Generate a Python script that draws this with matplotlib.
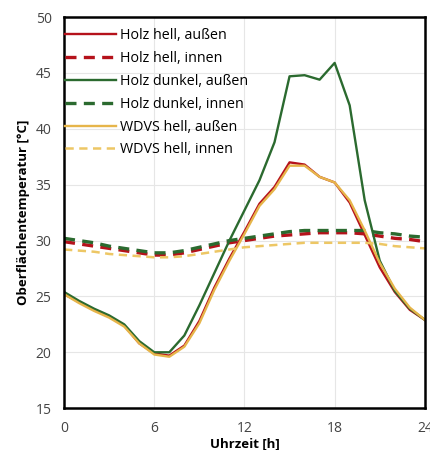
import matplotlib
matplotlib.use("Agg")
import matplotlib.pyplot as plt

plt.rcParams['font.family'] = ['Open Sans', 'DejaVu Sans']

# hourly values
hours = list(range(25))

holz_hell_aussen = [25.2, 24.5, 23.8, 23.2, 22.4, 20.8, 19.9, 19.7, 20.6, 22.8, 25.8, 28.4, 30.8,
                    33.3, 34.8, 37.0, 36.8, 35.7, 35.2, 33.4, 30.5, 27.6, 25.4, 23.8, 22.9]
holz_hell_innen = [29.9, 29.7, 29.5, 29.3, 29.1, 28.9, 28.7, 28.7, 28.9, 29.2, 29.5, 29.8, 30.0,
                   30.2, 30.4, 30.5, 30.6, 30.7, 30.7, 30.7, 30.6, 30.4, 30.2, 30.1, 29.9]
holz_dunkel_aussen = [25.4, 24.6, 23.9, 23.3, 22.5, 21.0, 20.0, 20.0, 21.5, 24.2, 27.1, 30.0, 32.7,
                      35.4, 38.8, 44.7, 44.8, 44.4, 45.9, 42.1, 33.6, 28.2, 25.5, 23.9, 22.9]
holz_dunkel_innen = [30.2, 30.0, 29.8, 29.5, 29.3, 29.1, 28.9, 28.9, 29.1, 29.4, 29.7, 30.0, 30.2,
                     30.4, 30.6, 30.8, 30.9, 30.9, 30.9, 30.9, 30.9, 30.7, 30.6, 30.4, 30.3]
wdvs_hell_aussen = [25.2, 24.4, 23.7, 23.1, 22.3, 20.8, 19.8, 19.6, 20.5, 22.6, 25.6, 28.2, 30.6,
                    33.1, 34.6, 36.7, 36.7, 35.7, 35.2, 33.6, 30.9, 28.0, 25.7, 24.0, 22.9]
wdvs_hell_innen = [29.2, 29.1, 29.0, 28.8, 28.7, 28.6, 28.5, 28.5, 28.6, 28.8, 29.0, 29.2, 29.4,
                   29.5, 29.6, 29.7, 29.8, 29.8, 29.8, 29.8, 29.8, 29.7, 29.5, 29.4, 29.3]

xticks = [0, 6, 12, 18, 24]
yticks = [15, 20, 25, 30, 35, 40, 45, 50]

red = '#B5121B'
green = '#2B6A2F'
yellow = '#E6B54A'
yellow_light = '#EDC765'

fig = plt.figure(figsize=(4.3, 4.5), dpi=100)
ax = fig.add_axes([0.149, 0.093, 0.839, 0.869])

dash = (3.3, 2.2)
ax.plot(hours, holz_hell_aussen, color=red, lw=1.7, label='Holz hell, außen')
ax.plot(hours, holz_hell_innen, color=red, lw=2.4, dashes=dash, label='Holz hell, innen')
ax.plot(hours, holz_dunkel_aussen, color=green, lw=1.7, label='Holz dunkel, außen')
ax.plot(hours, holz_dunkel_innen, color=green, lw=2.4, dashes=dash, label='Holz dunkel, innen')
ax.plot(hours, wdvs_hell_aussen, color=yellow, lw=1.7, label='WDVS hell, außen')
ax.plot(hours, wdvs_hell_innen, color=yellow_light, lw=1.8, dashes=dash, label='WDVS hell, innen')

ax.set_xlim(0, 24)
ax.set_ylim(15, 50)
ax.set_xticks(xticks)
ax.set_yticks(yticks)
ax.grid(True, color='#e6e6e6', lw=0.8)
ax.set_axisbelow(True)
ax.tick_params(length=0, labelsize=10, labelcolor='#444444', pad=9)
for s in ax.spines.values():
    s.set_linewidth(1.8)
    s.set_color('black')

ax.set_xlabel('Uhrzeit [h]', fontsize=9.5, fontweight='bold', labelpad=1)
ax.set_ylabel('Oberflächentemperatur [°C]', fontsize=9.5, fontweight='bold', labelpad=4)

ax.legend(loc='upper left', bbox_to_anchor=(-0.008, 0.983), frameon=False, fontsize=10.3,
          handlelength=3.5, handletextpad=0.3, labelspacing=0.55, borderaxespad=0, borderpad=0.3)

fig.savefig('out.png', dpi=100)
